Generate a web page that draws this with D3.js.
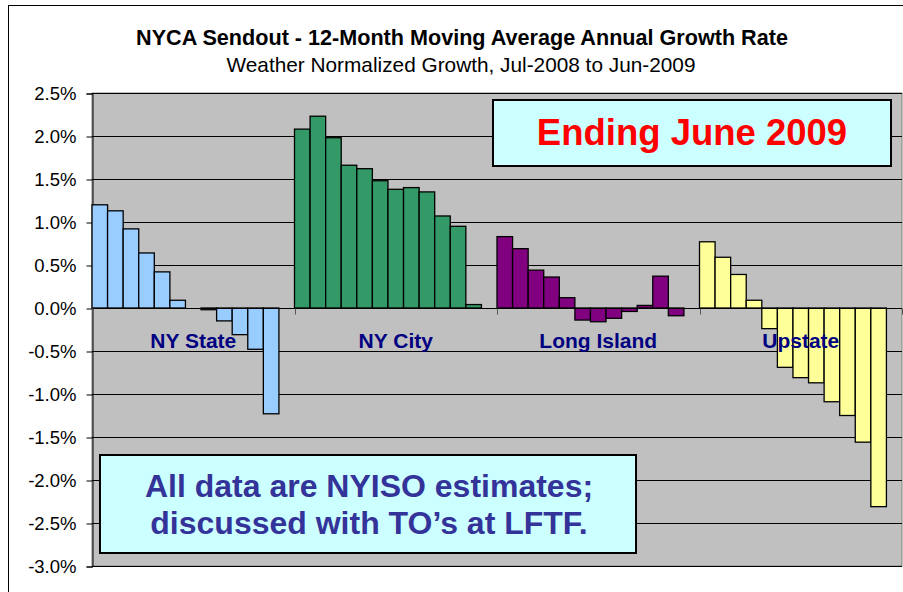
<!DOCTYPE html>
<html><head><meta charset="utf-8">
<script src="https://cdn.jsdelivr.net/npm/d3@7"></script>
<style>body{margin:0;background:#fff}svg{display:block}text{font-family:Arial,"Liberation Sans",sans-serif}</style>
</head><body><svg id="c" width="903" height="592"></svg>
<script>
const regions = ["NY State","NY City","Long Island","Upstate"];
const regionColors = ["#99ccff","#339966","#800080","#ffff99"];
const nyState    = [1.20,1.13,0.92,0.64,0.42,0.09,0.00,-0.02,-0.15,-0.31,-0.48,-1.23];
const nyCity     = [2.08,2.23,1.98,1.66,1.62,1.48,1.38,1.40,1.35,1.07,0.95,0.04];
const longIsland = [0.83,0.69,0.44,0.36,0.12,-0.14,-0.16,-0.12,-0.04,0.03,0.37,-0.09];
const upstate    = [0.77,0.59,0.39,0.09,-0.24,-0.69,-0.81,-0.87,-1.09,-1.25,-1.56,-2.31];
const seriesValues = [nyState,nyCity,longIsland,upstate];
const yTicks = [2.5,2.0,1.5,1.0,0.5,0.0,-0.5,-1.0,-1.5,-2.0,-2.5,-3.0];
const titleText = "NYCA Sendout - 12-Month Moving Average Annual Growth Rate";
const subtitleText = "Weather Normalized Growth, Jul-2008 to Jun-2009";
const noteTop = "Ending June 2009";
const noteBottom = ["All data are NYISO estimates;","discussed with TO\u2019s at LFTF."];

const svg = d3.select("#c");
const L=92,R=902,T=93,B=566;
svg.append("rect").attr("x",8.5).attr("y",5.5).attr("width",1000).attr("height",1000)
  .attr("fill","#fff").attr("stroke","#000").attr("stroke-width",1);

const slots = [];
regions.forEach((r,gi)=>{ for(let i=0;i<13;i++) slots.push(r+"|"+i); });
const x = d3.scaleBand().domain(slots).range([L,R]).padding(0);
const y = d3.scaleLinear().domain([-3,2.5]).range([B,T]);

svg.append("rect").attr("x",L).attr("y",T).attr("width",R-L).attr("height",B-T)
  .attr("fill","#c0c0c0").attr("stroke","#808080").attr("stroke-width",1);

// grid
svg.append("g").selectAll("line").data(yTicks).join("line")
  .attr("x1",L).attr("x2",R).attr("y1",d=>Math.round(y(d))+0.5).attr("y2",d=>Math.round(y(d))+0.5)
  .attr("stroke","#000").attr("stroke-width",1);

// y axis
const yAxis = d3.axisLeft(y).tickValues(yTicks).tickSize(6).tickPadding(10)
  .tickFormat(d=>d3.format(".1f")(d).replace("−","-")+"%");
const ga = svg.append("g").attr("transform",`translate(${L+0.5},0.5)`).call(yAxis);
ga.select(".domain").attr("stroke","#000");
ga.selectAll(".tick line").attr("stroke","#000");
ga.selectAll("text").attr("font-size",18.5).attr("fill","#000").attr("font-family","Arial,'Liberation Sans',sans-serif");

// bars
const data = [];
seriesValues.forEach((vals,gi)=>vals.forEach((v,i)=>data.push({g:gi,i,v})));
svg.append("g").selectAll("rect").data(data.filter(d=>d.v!==0)).join("rect")
  .attr("x",d=>x(regions[d.g]+"|"+d.i))
  .attr("width",x.bandwidth())
  .attr("y",d=>y(Math.max(0,d.v)))
  .attr("height",d=>Math.abs(y(d.v)-y(0)))
  .attr("fill",d=>regionColors[d.g]).attr("stroke","#000").attr("stroke-width",1.3);

// x axis at zero
const y0 = Math.round(y(0))+0.5;
svg.append("line").attr("x1",L).attr("x2",R).attr("y1",y0).attr("y2",y0).attr("stroke","#000");
const bounds = regions.map(r=>x(r+"|0")).concat([R]);
svg.append("g").selectAll("line").data(bounds).join("line")
  .attr("x1",d=>Math.round(d)+0.5).attr("x2",d=>Math.round(d)+0.5)
  .attr("y1",y0).attr("y2",y0+6).attr("stroke","#555");

// group labels
svg.append("g").selectAll("text").data(regions).join("text")
  .attr("x",r=>x(r+"|0")+x.bandwidth()*6.5).attr("y",348)
  .attr("text-anchor","middle").attr("font-size",21).attr("font-weight","bold").attr("fill","#000080")
  .text(d=>d);

// titles
svg.append("text").attr("x",462).attr("y",45).attr("text-anchor","middle")
  .attr("font-size",21.6).attr("font-weight","bold").text(titleText);
svg.append("text").attr("x",461).attr("y",72).attr("text-anchor","middle")
  .attr("font-size",20.8).text(subtitleText);

// note boxes
svg.append("rect").attr("x",493).attr("y",100).attr("width",398).attr("height",66)
  .attr("fill","#ccffff").attr("stroke","#000").attr("stroke-width",2);
svg.append("text").attr("x",692).attr("y",145).attr("text-anchor","middle")
  .attr("font-size",36.5).attr("font-weight","bold").attr("fill","#ff0000").text(noteTop);

svg.append("rect").attr("x",100).attr("y",455).attr("width",536).attr("height",98)
  .attr("fill","#ccffff").attr("stroke","#000").attr("stroke-width",2);
svg.append("g").selectAll("text").data(noteBottom).join("text")
  .attr("x",369).attr("y",(d,i)=>497+i*37).attr("text-anchor","middle")
  .attr("font-size",32).attr("font-weight","bold").attr("fill","#333399").text(d=>d);
</script></body></html>
